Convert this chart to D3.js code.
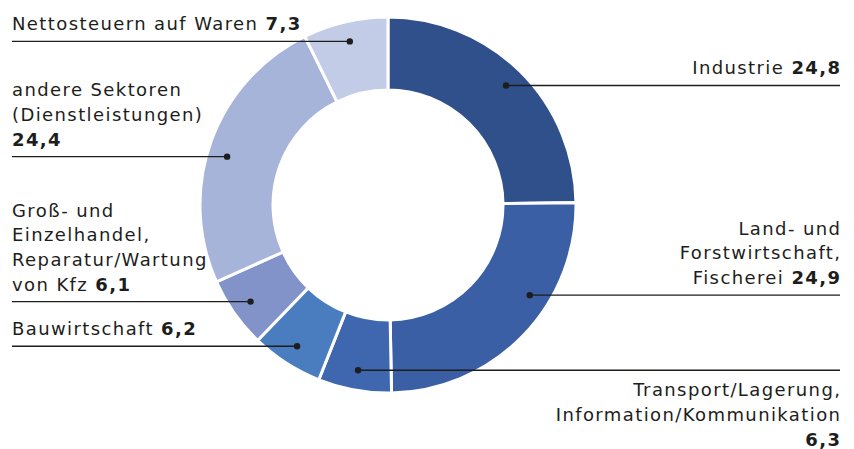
<!DOCTYPE html>
<html>
<head>
<meta charset="utf-8">
<script src="https://cdn.jsdelivr.net/npm/d3@7"></script>
<style>
  body { margin: 0; background: #fff; }
  text { font-family: "DejaVu Sans", sans-serif; fill: #1d1d1b; letter-spacing: 1.4px; }
</style>
</head>
<body>
<svg id="chart" width="854" height="449"></svg>
<script>
// sectors, clockwise from 12 o'clock
const sectors = [
  "Industrie",
  "Land- und Forstwirtschaft, Fischerei",
  "Transport/Lagerung, Information/Kommunikation",
  "Bauwirtschaft",
  "Groß- und Einzelhandel, Reparatur/Wartung von Kfz",
  "andere Sektoren (Dienstleistungen)",
  "Nettosteuern auf Waren"
];
const shares = [24.8, 24.9, 6.3, 6.2, 6.1, 24.4, 7.3];
const valueLabels = ["24,8", "24,9", "6,3", "6,2", "6,1", "24,4", "7,3"];
// label text lines; the value is appended to the last line (or own line)
const labelLines = [
  ["Industrie"],
  ["Land- und", "Forstwirtschaft,", "Fischerei"],
  ["Transport/Lagerung,", "Information/Kommunikation", ""],
  ["Bauwirtschaft"],
  ["Groß- und", "Einzelhandel,", "Reparatur/Wartung", "von Kfz"],
  ["andere Sektoren", "(Dienstleistungen)", ""],
  ["Nettosteuern auf Waren"]
];

const colors = ["#30508b", "#3a5fa4", "#3e67b0", "#4a7dbf", "#8193c9", "#a7b4da", "#c3cce6"];

// layout
const cx = 388, cy = 205, outerR = 188, innerR = 115, dotR = 168;
const side = ["right", "right", "right", "left", "left", "left", "left"];
const dotPos = [0.5, 0.37, 0.5, 0.5, 0.5, 0.465, 0.5]; // position of dot within slice
const below = [false, false, true, false, false, false, false];
const lineH = 24.7;
const rightX = 840, leftX = 12;

const svg = d3.select("#chart");
const g = svg.append("g").attr("transform", `translate(${cx},${cy})`);

const data = sectors.map((s, i) => ({ name: s, value: shares[i], i }));
const pie = d3.pie().value(d => d.value).sort(null);
const arcs = pie(data);
const arc = d3.arc().innerRadius(innerR).outerRadius(outerR);

g.selectAll("path.slice")
  .data(arcs)
  .join("path")
  .attr("class", "slice")
  .attr("d", arc)
  .attr("fill", d => colors[d.data.i])
  .attr("stroke", "#fff")
  .attr("stroke-width", 3);

// leader lines + dots
const leaders = arcs.map(a => {
  const i = a.data.i;
  const ang = a.startAngle + (a.endAngle - a.startAngle) * dotPos[i];
  const x = cx + dotR * Math.sin(ang);
  const y = cy - dotR * Math.cos(ang);
  return { i, x, y };
});

svg.selectAll("line.leader")
  .data(leaders)
  .join("line")
  .attr("class", "leader")
  .attr("x1", d => d.x)
  .attr("x2", d => side[d.i] === "right" ? rightX : leftX)
  .attr("y1", d => d.y)
  .attr("y2", d => d.y)
  .attr("stroke", "#1d1d1b")
  .attr("stroke-width", 1.4);

svg.selectAll("circle.dot")
  .data(leaders)
  .join("circle")
  .attr("class", "dot")
  .attr("cx", d => d.x)
  .attr("cy", d => d.y)
  .attr("r", 3.2)
  .attr("fill", "#1d1d1b");

// labels
leaders.forEach(d => {
  const lines = labelLines[d.i];
  const n = lines.length;
  const right = side[d.i] === "right";
  const tx = right ? rightX + 1.4 : leftX; // compensate trailing letter-spacing
  const t = svg.append("text")
    .attr("text-anchor", right ? "end" : "start")
    .attr("font-size", 18);
  lines.forEach((ln, k) => {
    const y = below[d.i] ? d.y + 26 + k * lineH : d.y - 11 - (n - 1 - k) * lineH;
    const ts = t.append("tspan").attr("x", tx).attr("y", y);
    if (k === n - 1) {
      if (ln) ts.append("tspan").text(ln + " ");
      ts.append("tspan").attr("font-weight", 700).text(valueLabels[d.i]);
    } else {
      ts.text(ln);
    }
  });
});
</script>
</body>
</html>
